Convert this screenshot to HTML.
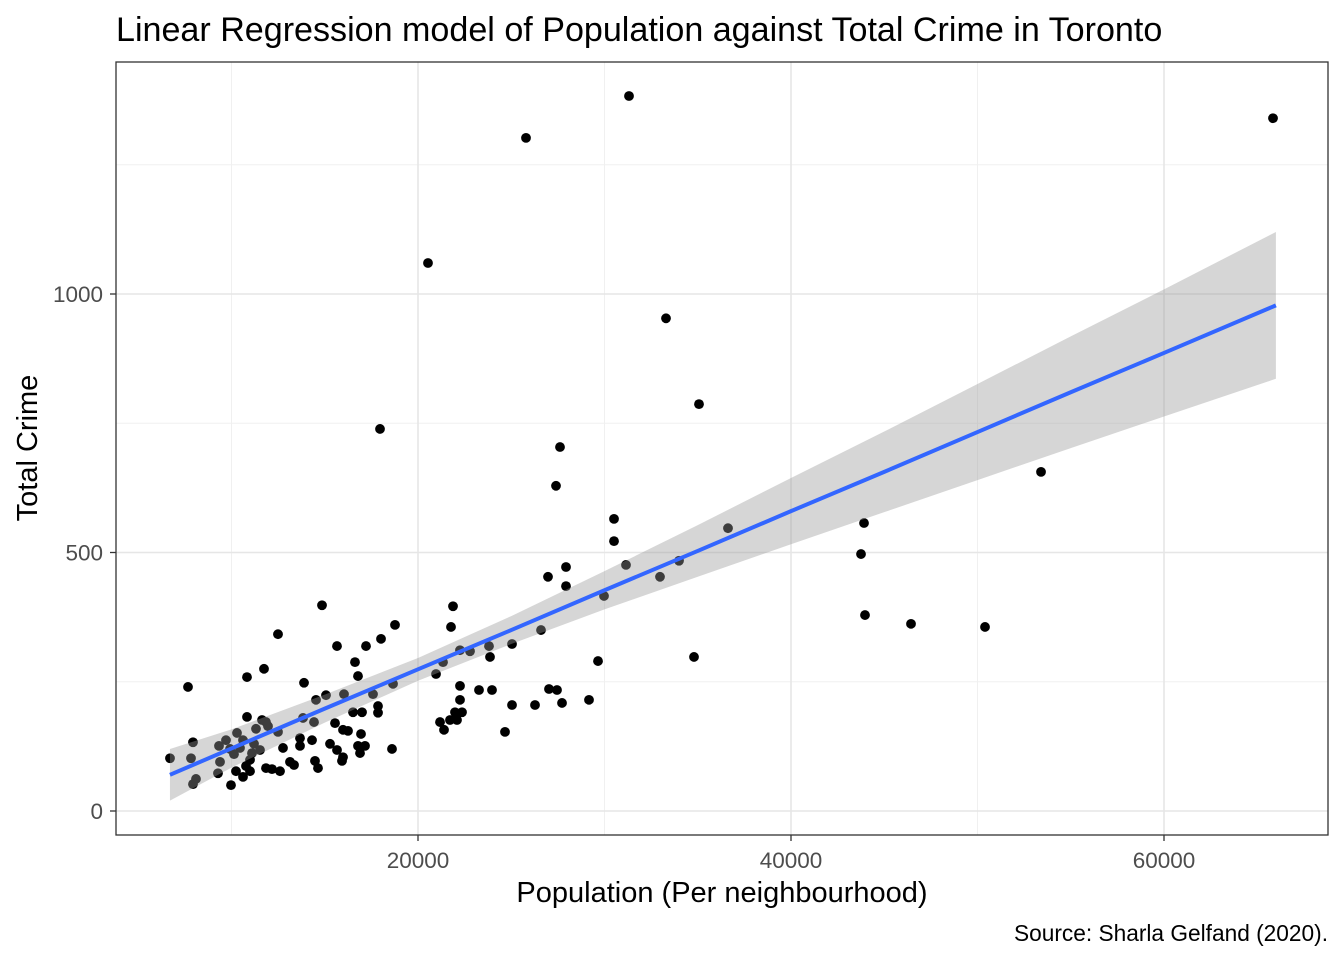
<!DOCTYPE html>
<html><head><meta charset="utf-8"><style>
body{margin:0;background:#fff;}
svg{display:block;font-family:"Liberation Sans",Arial,sans-serif;}
</style></head><body>
<svg id="chart" width="1344" height="960" viewBox="0 0 1344 960">
<rect x="0" y="0" width="1344" height="960" fill="#fff"/>
<text x="116" y="41" font-size="34.1" fill="#000">Linear Regression model of Population against Total Crime in Toronto</text>
<g id="grid"></g>
<g id="points"></g>
<g id="fit"></g>
<rect x="116" y="62" width="1212" height="773" fill="none" stroke="#333" stroke-width="1.3"/>
<g id="axes"></g>
<text x="722" y="902" font-size="29" text-anchor="middle" fill="#000">Population (Per neighbourhood)</text>
<text transform="translate(37,448) rotate(-90)" font-size="29" text-anchor="middle" fill="#000">Total Crime</text>
<text x="1328" y="941" font-size="22.7" text-anchor="end" fill="#000">Source: Sharla Gelfand (2020).</text>
</svg>
<script>
const popX=[31314,65845,25791,20536,33298,35067,17963,27614,27400,53406,36622,30510,30510,43915,43754,31153,33995,32976,26971,27936,27936,29974,43968,46435,50403,34799,29652,26596,25041,23807,23861,22252,22788,21877,21770,21341,20966,22252,23271,23968,27024,27453,27722,26274,29169,25041,24665,22252,22359,21984,21716,22091,21180,21395,18767,18017,17212,15657,14853,12493,11743,10831,7668,13888,16622,16783,18660,17587,17856,17856,16998,16515,16032,15067,14531,13834,14424,15550,15979,16247,16944,15282,15657,15979,16783,17159,16891,15925,18606,14477,14638,13673,13673,14317,13137,13352,12762,12493,11636,11957,11850,11314,10831,11207,10617,10295,10456,9920,9705,9330,9384,10134,11099,11528,10992,10778,10241,10992,10617,9973,11850,12172,12601,9276,8096,7935,7828,7935,6702];
const crimeY=[1383,1340,1302,1060,953,787,739,704,629,656,547,565,522,557,497,476,484,453,453,472,435,416,379,362,356,298,290,350,323,319,298,311,309,396,356,288,265,242,234,234,236,234,209,205,215,205,153,215,191,191,176,176,172,157,360,333,319,319,398,342,275,259,240,248,288,261,246,226,203,190,191,191,226,224,215,180,172,170,157,155,149,130,118,104,126,126,112,97,120,97,83,126,141,137,95,89,122,153,176,164,172,159,182,130,137,151,122,120,137,126,95,110,112,118,99,87,77,77,66,50,83,81,77,73,62,52,102,133,102];
const bandX=[6700,10000,15000,20000,25000,30000,35000,40000,45000,50000,55000,60000,66000];
const fitY=[70,121,198,274,350,427,503,580,656,733,810,886,978];
const lowerY=[20,84,171,252,323,390,453,516,578,640,702,763,836];
const upperY=[120,158,225,296,377,464,553,644,734,826,918,1009,1120];
const xTicks=[20000,40000,60000];
const xMinor=[10000,30000,50000];
const yTicks=[0,500,1000];
const yMinor=[250,750,1250];

const NS="http://www.w3.org/2000/svg";
const sx=v=>45+v*0.018650;
const sy=v=>811-v*0.517;
function mk(tag,attrs,parent){const e=document.createElementNS(NS,tag);for(const k in attrs)e.setAttribute(k,attrs[k]);parent.appendChild(e);return e;}
const grid=document.getElementById('grid'),pts=document.getElementById('points'),fit=document.getElementById('fit'),axes=document.getElementById('axes');
xMinor.forEach(v=>{const l=mk('line',{x1:sx(v),x2:sx(v),y1:62,y2:835,stroke:'#f0f0f0','stroke-width':1},grid);

});
yMinor.forEach(v=>{const l=mk('line',{x1:116,x2:1328,y1:sy(v),y2:sy(v),stroke:'#f0f0f0','stroke-width':1},grid);

});
xTicks.forEach(v=>{const l=mk('line',{x1:sx(v),x2:sx(v),y1:62,y2:835,stroke:'#e6e6e6','stroke-width':1.6},grid);


const t=mk('line',{x1:sx(v),x2:sx(v),y1:835,y2:841,stroke:'#333','stroke-width':1.3},axes);


const tx=mk('text',{x:sx(v),y:868,'font-size':22.5,'text-anchor':'middle',fill:'#4d4d4d'},axes);tx.textContent=v;

});
yTicks.forEach(v=>{const l=mk('line',{x1:116,x2:1328,y1:sy(v),y2:sy(v),stroke:'#e6e6e6','stroke-width':1.6},grid);


const t=mk('line',{x1:110,x2:116,y1:sy(v),y2:sy(v),stroke:'#333','stroke-width':1.3},axes);


const tx=mk('text',{x:103,y:sy(v)+8,'font-size':22.5,'text-anchor':'end',fill:'#4d4d4d'},axes);tx.textContent=v;

});
popX.forEach((v,i)=>{const c=mk('circle',{cx:sx(v),cy:sy(crimeY[i]),r:4.9,fill:'#000'},pts);

});
let d='';bandX.forEach((v,i)=>{d+=(i?'L':'M')+sx(v)+','+sy(upperY[i]);});
for(let i=bandX.length-1;i>=0;i--)d+='L'+sx(bandX[i])+','+sy(lowerY[i]);d+='Z';
const band=mk('path',{d:d,fill:'#999999','fill-opacity':0.4},fit);


let ld='';bandX.forEach((v,i)=>{ld+=(i?'L':'M')+sx(v)+','+sy(fitY[i]);});
const line=mk('path',{d:ld,fill:'none',stroke:'#3366FF','stroke-width':4},fit);


</script>
</body></html>
